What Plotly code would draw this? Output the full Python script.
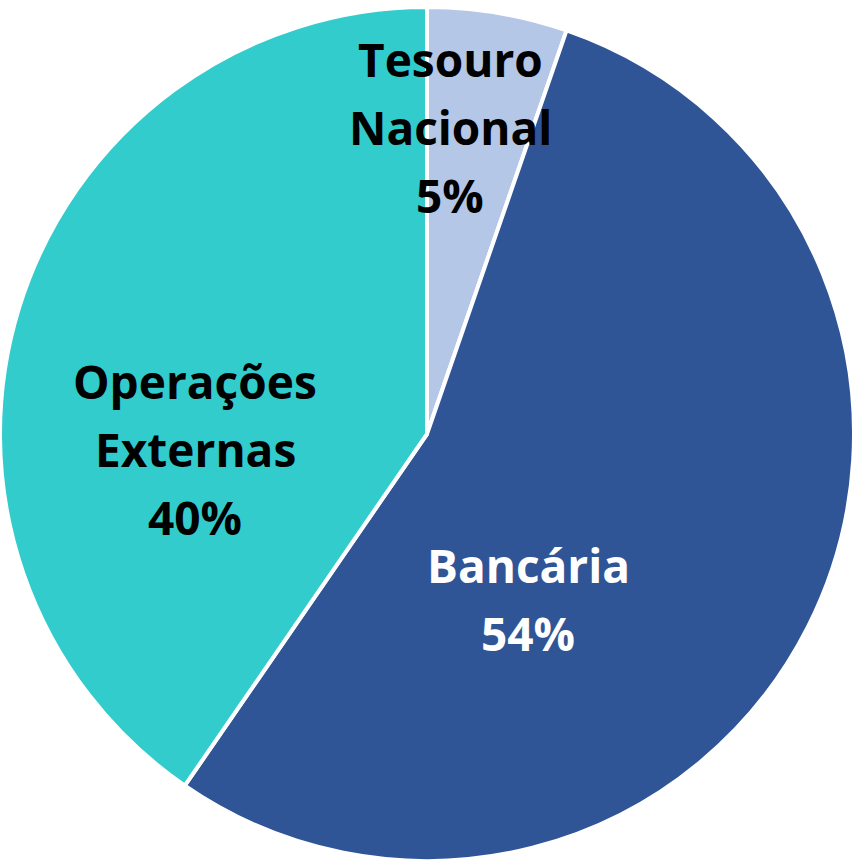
import plotly.graph_objects as go

labels = ["Tesouro Nacional", "Bancária", "Operações Externas"]
label_lines = [["Tesouro", "Nacional"], ["Bancária"], ["Operações", "Externas"]]
values = [5.3, 54.3, 40.4]
colors = ["#B4C7E7", "#2F5597", "#33CCCC"]
text_colors = ["black", "white", "black"]

W, H = 854, 868

fig = go.Figure(go.Pie(
    labels=labels,
    values=values,
    sort=False,
    direction="clockwise",
    rotation=0,
    marker=dict(colors=colors, line=dict(color="white", width=4)),
    textinfo="none",
    hoverinfo="label+percent",
    showlegend=False,
))

total = sum(values)
# label block centres (pixels) as placed in the original chart
anchors_px = [(450, 127), (528, 599), (195, 449)]
line_gap = 68
for lines, v, tc, (cx, cy) in zip(label_lines, values, text_colors, anchors_px):
    all_lines = lines + [f"{round(v / total * 100)}%"]
    n = len(all_lines)
    for i, t in enumerate(all_lines):
        py = cy + (i - (n - 1) / 2) * line_gap
        fig.add_annotation(
            x=cx / W, y=1 - py / H, xref="paper", yref="paper",
            text=f"<b>{t}</b>",
            showarrow=False,
            font=dict(family="Open Sans", size=46, color=tc),
            xanchor="center", yanchor="middle",
        )

fig.update_layout(
    width=W, height=H,
    margin=dict(l=0, r=0, t=0, b=0),
    paper_bgcolor="white",
    plot_bgcolor="white",
)

fig.write_html(
    "out.html",
    config={"displayModeBar": False},
    post_script="document.body.style.margin='0';document.body.style.overflow='hidden';",
)
